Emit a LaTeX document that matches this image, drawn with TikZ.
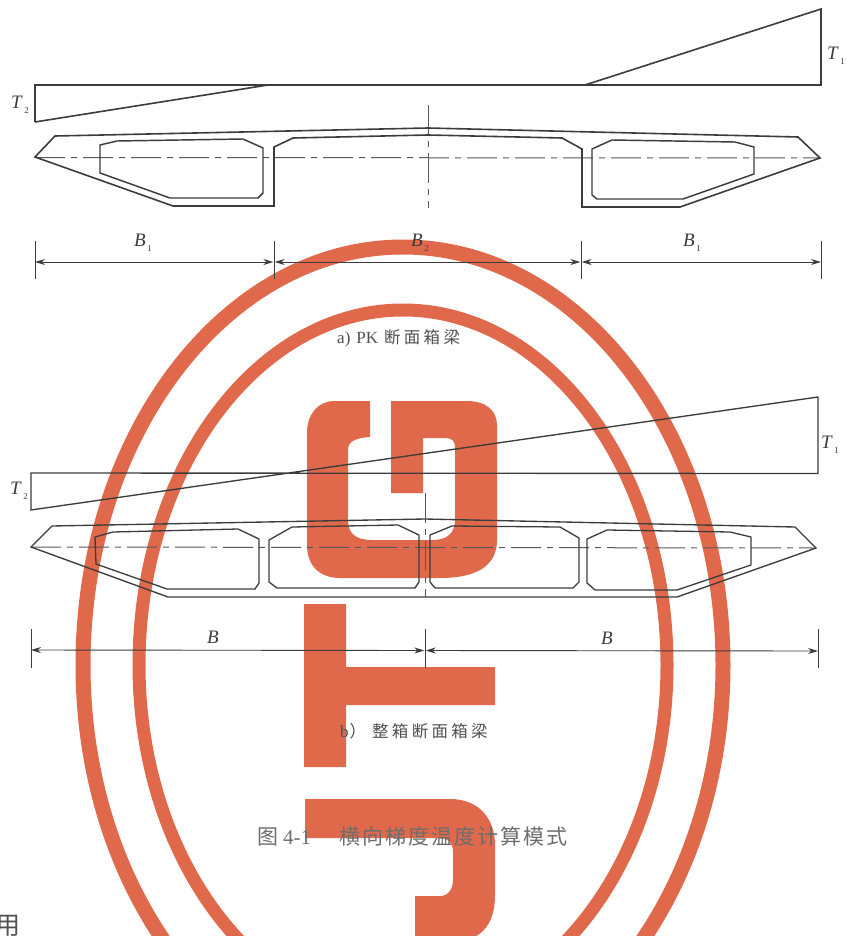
\documentclass[tikz,border=0pt]{standalone}
\usepackage{fontspec}
\setmainfont{Liberation Serif}
\newfontfamily\cjk{Noto Sans CJK SC}
\newfontfamily\cjkspaced[LetterSpace=9.5]{Noto Sans CJK SC}
\newfontfamily\cjkwide[LetterSpace=20]{Noto Sans CJK SC}
\usetikzlibrary{arrows.meta}
\definecolor{stampred}{HTML}{E0694C}
\definecolor{ink}{HTML}{3C3C3C}
\newcommand\symbsub[2]{\textit{#1}\kern1.5pt\raisebox{-4.5pt}{\fontsize{9}{9}\selectfont #2}}
\tikzset{
  beam/.style={draw=ink,line width=1.6pt,line join=miter},
  beamthin/.style={draw=ink,line width=1.35pt,line join=miter},
  cell/.style={draw=ink,line width=1.45pt,line join=round},
  cellthin/.style={draw=ink,line width=1.3pt,line join=round},
  axis/.style={draw=ink!85,line width=1pt,dash pattern=on 30pt off 6pt on 6pt off 6pt},
  dimline/.style={draw=ink,line width=0.9pt,{Stealth[length=10pt,width=6pt]}-{Stealth[length=10pt,width=6pt]}},
  tick/.style={draw=ink,line width=1pt},
  ring/.style={draw=stampred},
  sym/.style={font=\fontsize{19}{19}\selectfont,text=ink,inner sep=0pt},
  captext/.style={text=ink!90,inner sep=0pt},
}
\begin{document}
\begin{tikzpicture}[x=1pt,y=-1pt]
\useasboundingbox (0,0) rectangle (846,936);
\fill[white] (0,0) rectangle (846,936);
\begin{scope}
\clip (0,0) rectangle (846,936);
% stamp rings
\draw[ring,line width=15pt] (83,665) arc[start angle=180,end angle=360,x radius=320,y radius=418]
   arc[start angle=0,end angle=180,x radius=320,y radius=415];
\draw[ring,line width=13pt] (139,665) arc[start angle=180,end angle=360,x radius=264,y radius=355]
   arc[start angle=0,end angle=180,x radius=264,y radius=351];
% stamp logo
\fill[stampred] (370,401) -- (335,401) .. controls (317,401) and (307,415) .. (307,433) -- (307,545)
   .. controls (307,566) and (320,578) .. (340,578) -- (440,578)
   .. controls (478,578) and (497,565) .. (497,540) -- (497,425)
   .. controls (497,410) and (485,401) .. (467,401) -- (391,401) -- (391,493) -- (423,493) -- (423,438)
   -- (445,438) .. controls (452,438) and (455,441) .. (455,447) -- (455,520)
   .. controls (455,533) and (447,540) .. (433,540) -- (372,540)
   .. controls (355,540) and (348,533) .. (348,520) -- (348,450)
   .. controls (348,442) and (354,438) .. (370,437) -- cycle;
\fill[stampred] (304,604) -- (346,604) -- (346,667) -- (495,667) -- (495,705) -- (346,705) -- (346,767) -- (304,767) -- cycle;
\fill[stampred] (305,799) -- (450,799) .. controls (480,799) and (495,820) .. (495,845) -- (495,895)
   .. controls (495,920) and (485,936) .. (465,940) -- (415,940) -- (415,896) -- (440,896)
   .. controls (449,896) and (453,888) .. (453,880) -- (453,852) .. controls (453,843) and (448,838) .. (440,838)
   -- (305,838) -- cycle;
\node[captext,anchor=north,font=\cjk\fontsize{25}{25}\selectfont] (yong) at (8,915) {用};
\end{scope}

% ---------- a) ----------
\draw[beam] (35,122) -- (35,85) -- (821,85) -- (821,9) -- (585,85);
\draw[beam] (35,122) -- (268,85);
\node[sym] (t2a) at (20,105) {\symbsub{T}{2}};
\node[sym] (t1a) at (836,56) {\symbsub{T}{1}};
\draw[axis] (35,157.5) -- (820,158);
\draw[axis] (428,105) -- (428,208);
\draw[beam] (35,157) -- (55,136) -- (428,128) -- (798,137) -- (820,158) -- (680,207) -- (582,207) -- (582,149)
  -- (562,138) -- (428,135) -- (293,138) -- (274,147) -- (274,206) -- (173,206) -- cycle;
\draw[cell] (100,145) -- (117,141) -- (243,139) -- (263,148) -- (263,193) -- (258,198) -- (170,198) -- (100,173) -- cycle;
\draw[cell] (592,149) -- (612,140) -- (735,142) -- (754,147) -- (754,174) -- (683,199) -- (597,199) -- (592,195) -- cycle;
\coordinate (a0t) at (35,241); \coordinate (a0b) at (35,279);
\coordinate (a1t) at (274,241); \coordinate (a1b) at (274,279);
\coordinate (a2t) at (581,241); \coordinate (a2b) at (581,279);
\coordinate (a3t) at (821,241); \coordinate (a3b) at (821,279);
\draw[tick] (a0t) -- (a0b); \draw[tick] (a1t) -- (a1b); \draw[tick] (a2t) -- (a2b); \draw[tick] (a3t) -- (a3b);
\coordinate (a0) at (35,262); \coordinate (a1l) at (273.3,262); \coordinate (a1r) at (274.7,262);
\coordinate (a2l) at (580.3,262); \coordinate (a2r) at (581.7,262); \coordinate (a3) at (821,262);
\draw[dimline] (a0) -- (a1l); \draw[dimline] (a1r) -- (a2l); \draw[dimline] (a2r) -- (a3);
\node[sym] (b1a) at (143,243) {\symbsub{B}{1}};
\node[sym] (b2a) at (420,243) {\symbsub{B}{2}};
\node[sym] (b3a) at (692,243) {\symbsub{B}{1}};
\node[captext,anchor=west,font=\fontsize{17}{17}\selectfont] (capa) at (337,338) {a)\hspace{6pt}PK\hspace{6pt}{\cjkwide\fontsize{16.5}{17}\selectfont 断面箱梁}};

% ---------- b) ----------
\draw[beamthin] (31,510) -- (31,473) -- (818,473.5) -- (818,397) -- cycle;
\node[sym] (t2b) at (19,491) {\symbsub{T}{2}};
\node[sym] (t1b) at (830,445) {\symbsub{T}{1}};
\draw[axis] (31,547) -- (816,548);
\draw[axis] (425,493) -- (425,597);
\draw[beamthin] (31,547) -- (52,526) -- (425,519) -- (795,527) -- (816,548) -- (677,597) -- (168,597) -- cycle;
\draw[cellthin] (95,537) -- (113,532) -- (238,529) -- (259,539) -- (259,583) -- (255,589) -- (167,589) -- (96,564) -- cycle;
\draw[cellthin] (269,540) -- (292,527) -- (398,525) -- (419,535) -- (419,582) -- (415,588) -- (277,588) -- (269,582) -- cycle;
\draw[cellthin] (430,535) -- (452,526) -- (560,527) -- (579,538) -- (579,582) -- (573,588) -- (435,588) -- (430,582) -- cycle;
\draw[cellthin] (587,539) -- (607,530) -- (730,532) -- (751,537) -- (751,565) -- (677,590) -- (595,590) -- (587,583) -- cycle;
\coordinate (b0t) at (31,629); \coordinate (b0b) at (31,668);
\coordinate (b1t) at (425,629); \coordinate (b1b) at (425,668);
\coordinate (b2t) at (818,629); \coordinate (b2b) at (818,668);
\draw[tick] (b0t) -- (b0b); \draw[tick] (b1t) -- (b1b); \draw[tick] (b2t) -- (b2b);
\coordinate (b0) at (31,650); \coordinate (b1l) at (424.3,650.5); \coordinate (b1r) at (425.7,650.5); \coordinate (b2) at (818,651);
\draw[dimline] (b0) -- (b1l); \draw[dimline] (b1r) -- (b2);
\node[sym,font=\fontsize{19}{19}\selectfont\itshape] (bl) at (213,637) {B};
\node[sym,font=\fontsize{19}{19}\selectfont\itshape] (br) at (607,638) {B};
\node[captext,font=\fontsize{17}{17}\selectfont,anchor=west] (capb) at (340,731) {b\kern1pt{\cjk\fontsize{16.5}{17}\selectfont ）}\kern6pt{\cjkwide\fontsize{16.5}{17}\selectfont 整箱断面箱梁}};
\node[captext,text=ink!75,anchor=west,font=\cjk\fontsize{21}{21}\selectfont] (fig) at (257,836) {图\hspace{5pt}{\rmfamily 4-1}\hspace{28pt}{\cjkspaced\fontsize{21}{21}\selectfont 横向梯度温度计算模式}};
\end{tikzpicture}
\end{document}
